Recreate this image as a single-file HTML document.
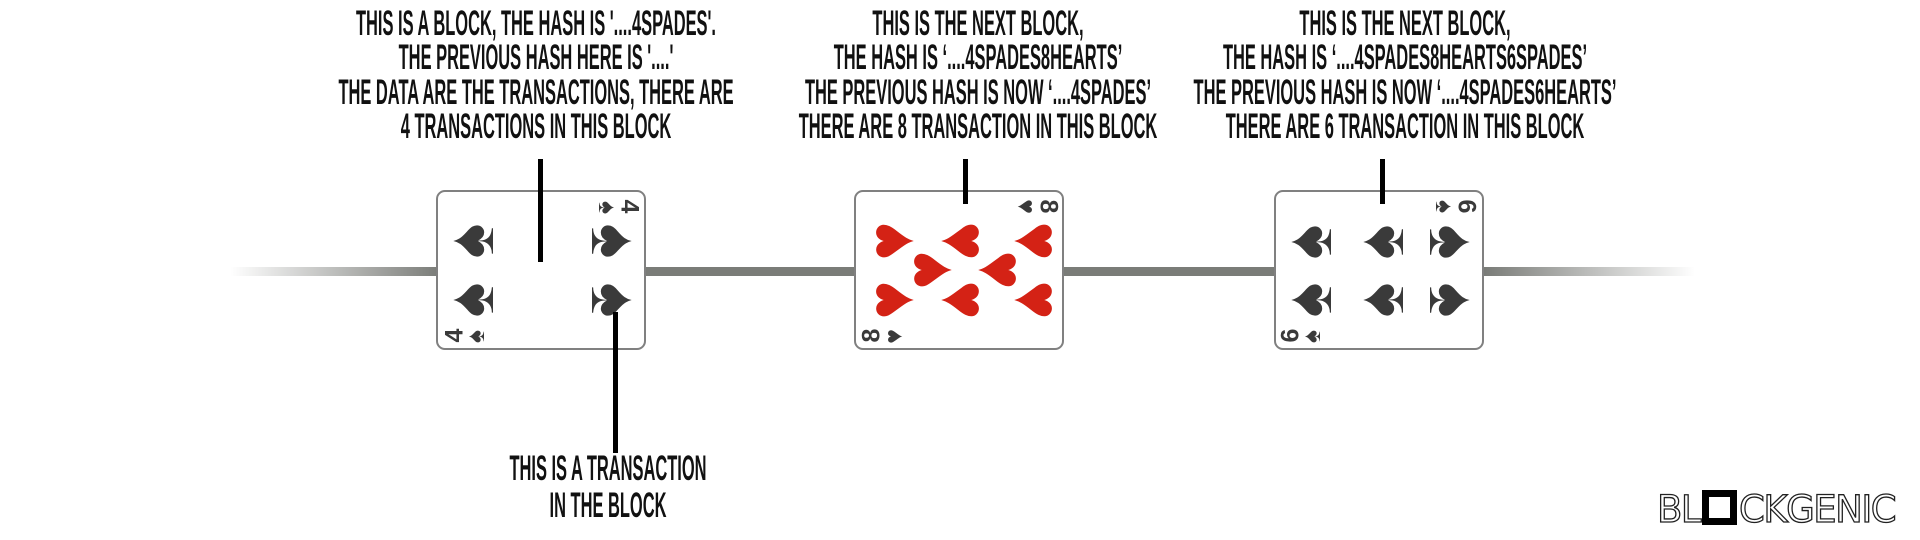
<!DOCTYPE html>
<html><head><meta charset="utf-8"><style>
html,body{margin:0;padding:0;background:#fff;}
body{width:1920px;height:540px;position:relative;overflow:hidden;font-family:"Liberation Sans",sans-serif;}
.t{position:absolute;font-weight:bold;font-size:35px;line-height:34.3px;color:#111;text-align:center;white-space:nowrap;transform:translateX(-50%) scaleX(0.47);}
.v{position:absolute;background:#000;width:5px;}
.card{position:absolute;width:206px;height:156px;border:2.5px solid #808080;border-radius:9px;background:#fff;top:190px;}
.p{position:absolute;font-size:66px;line-height:1;width:66px;height:66px;text-align:center;margin:-33px 0 0 -33px;color:#3a3a3a;}
.l{transform:rotate(-90deg);} .r{transform:rotate(90deg);}
.h{color:#d42215;}
.ix{position:absolute;font-weight:bold;font-size:25px;line-height:1;color:#3a3a3a;}
</style></head><body>
<div style="position:absolute;left:230px;top:267px;width:1465px;height:9px;background:linear-gradient(to right,rgba(122,124,120,0) 0px,#7a7c78 210px,#7a7c78 1255px,rgba(122,124,120,0) 1465px);"></div>

<div class="t" style="left:536px;top:7px;">THIS IS A BLOCK, THE HASH IS '....4SPADES'.<br>THE PREVIOUS HASH HERE IS '....'<br>THE DATA ARE THE TRANSACTIONS, THERE ARE<br>4 TRANSACTIONS IN THIS BLOCK</div>
<div class="t" style="left:978px;top:7px;">THIS IS THE NEXT BLOCK,<br>THE HASH IS ‘....4SPADES8HEARTS’<br>THE PREVIOUS HASH IS NOW ‘....4SPADES’<br>THERE ARE 8 TRANSACTION IN THIS BLOCK</div>
<div class="t" style="left:1405px;top:7px;">THIS IS THE NEXT BLOCK,<br>THE HASH IS ‘....4SPADES8HEARTS6SPADES’<br>THE PREVIOUS HASH IS NOW ‘....4SPADES6HEARTS’<br>THERE ARE 6 TRANSACTION IN THIS BLOCK</div>
<div class="t" style="left:608px;top:450px;line-height:37px;">THIS IS A TRANSACTION<br>IN THE BLOCK</div>

<!-- card 1 -->
<div class="card" style="left:436px;"></div>
<div class="p l" style="left:470px;top:241px;">♠</div>
<div class="p r" style="left:615px;top:241px;">♠</div>
<div class="p l" style="left:470px;top:300px;">♠</div>
<div class="p r" style="left:615px;top:300px;">♠</div>
<div class="ix" style="left:600px;top:195px;transform:rotate(90deg)">♠</div>
<div class="ix" style="left:622px;top:194px;transform:rotate(90deg)">4</div>
<div class="ix" style="left:448px;top:323px;transform:rotate(-90deg)">4</div>
<div class="ix" style="left:470px;top:324px;transform:rotate(-90deg)">♠</div>

<!-- card 2 -->
<div class="card" style="left:854px;"></div>
<div class="p h l" style="left:890px;top:241px;">♥</div>
<div class="p h r" style="left:965px;top:241px;">♥</div>
<div class="p h r" style="left:1038px;top:241px;">♥</div>
<div class="p h l" style="left:928px;top:270px;">♥</div>
<div class="p h r" style="left:1002px;top:270px;">♥</div>
<div class="p h l" style="left:890px;top:300px;">♥</div>
<div class="p h r" style="left:965px;top:300px;">♥</div>
<div class="p h r" style="left:1038px;top:300px;">♥</div>
<div class="ix h" style="left:1018px;top:194px;transform:rotate(90deg)">♥</div>
<div class="ix h" style="left:1041px;top:194px;transform:rotate(90deg)">8</div>
<div class="ix h" style="left:865px;top:323px;transform:rotate(-90deg)">8</div>
<div class="ix h" style="left:887px;top:324px;transform:rotate(-90deg)">♥</div>

<!-- card 3 -->
<div class="card" style="left:1274px;"></div>
<div class="p l" style="left:1308px;top:242px;">♠</div>
<div class="p l" style="left:1380px;top:242px;">♠</div>
<div class="p r" style="left:1453px;top:242px;">♠</div>
<div class="p l" style="left:1308px;top:300px;">♠</div>
<div class="p l" style="left:1380px;top:300px;">♠</div>
<div class="p r" style="left:1453px;top:300px;">♠</div>
<div class="ix" style="left:1437px;top:194px;transform:rotate(90deg)">♠</div>
<div class="ix" style="left:1459px;top:194px;transform:rotate(90deg)">6</div>
<div class="ix" style="left:1284px;top:323px;transform:rotate(-90deg)">6</div>
<div class="ix" style="left:1306px;top:324px;transform:rotate(-90deg)">♠</div>

<div class="v" style="left:538px;top:159px;height:103px;"></div>
<div class="v" style="left:963px;top:159px;height:45px;"></div>
<div class="v" style="left:1380px;top:159px;height:45px;"></div>
<div class="v" style="left:613px;top:312px;height:141px;"></div>

<div style="position:absolute;left:1657px;top:490px;height:36px;font-size:37px;line-height:36px;color:#fff;-webkit-text-stroke:1.3px #222;letter-spacing:-1.5px;white-space:nowrap;font-family:'DejaVu Sans','Liberation Sans',sans-serif;">BL<span style="display:inline-block;width:21px;height:21px;border:7px solid #000;vertical-align:-3px;margin:0 2px;"></span>CKGENIC</div>
</body></html>
